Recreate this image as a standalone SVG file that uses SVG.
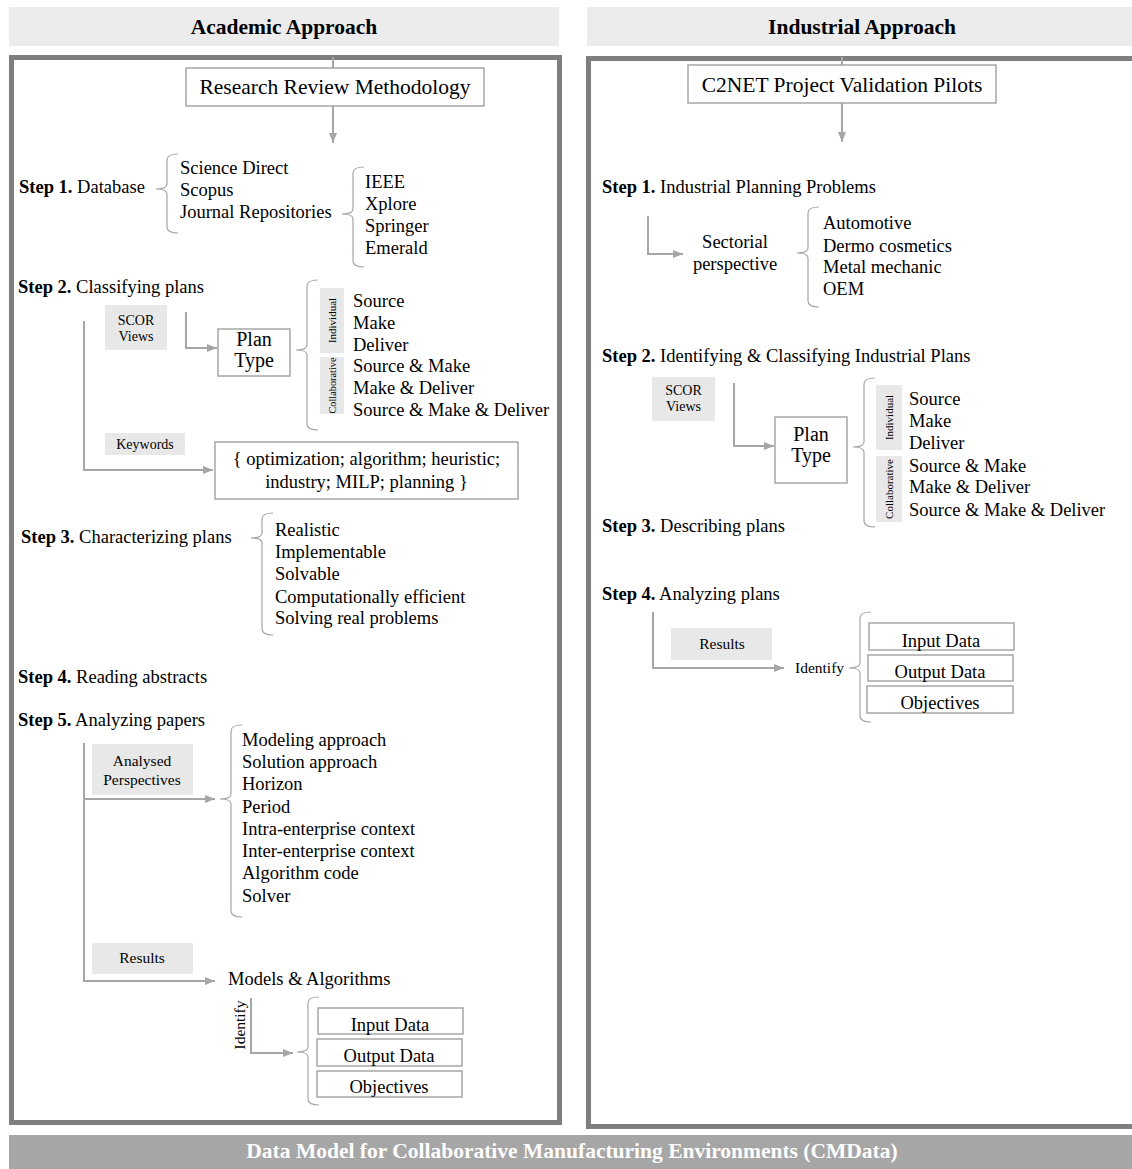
<svg xmlns="http://www.w3.org/2000/svg" width="1132" height="1169" viewBox="0 0 1132 1169">
<defs>
<marker id="arr" markerUnits="userSpaceOnUse" markerWidth="10" markerHeight="10" viewBox="0 0 10 10" refX="10" refY="5" orient="auto">
<path d="M0,1 L10,5 L0,9 z" fill="#a6a6a6"/>
</marker>
<style>
text{font-family:"Liberation Serif","Times New Roman",serif;font-size:18.5px;fill:#000}
.b{font-weight:bold}
.hd{font-size:21.5px;font-weight:bold}
.ft{font-size:21.5px;font-weight:bold;fill:#fff}
.m{text-anchor:middle}
.big{font-size:21.5px}
.pt{font-size:20px}
.sm{font-size:14px}
.md{font-size:15.5px}
.xs{font-size:11px}
.xs2{font-size:10.3px}
.hdr{fill:#ececec}
.frame{fill:none;stroke:#7f7f7f;stroke-width:5}
.box{fill:#fff;stroke:#a6a6a6;stroke-width:1.5}
.gbox{fill:#e8e8e8}
.conn{fill:none;stroke:#a6a6a6;stroke-width:2}
.brace{fill:none;stroke:#a6a6a6;stroke-width:1.2}
</style>
</defs>
<rect width="1132" height="1169" fill="#fff"/>

<!-- headers and frames -->
<g id="academic-header">
<rect class="hdr" x="9" y="7" width="550" height="39"/>
<text class="hd m" x="284" y="34">Academic Approach</text>
</g>
<g id="industrial-header">
<rect class="hdr" x="587" y="7" width="545" height="39"/>
<text class="hd m" x="862" y="34">Industrial Approach</text>
</g>
<g id="academic-frame"><rect class="frame" x="11.5" y="57.5" width="548" height="1065"/></g>
<g id="industrial-frame"><rect class="frame" x="588.5" y="58.5" width="548" height="1068"/></g>
<g id="cmdata-bar">
<rect x="9" y="1135" width="1123" height="34" fill="#a6a6a6"/>
<text class="ft m" x="572" y="1158">Data Model for Collaborative Manufacturing Environments (CMData)</text>
</g>

<!-- connectors -->
<g id="connectors">
<path class="conn" d="M333,57 V68"/>
<path class="conn" d="M333,106 V143" marker-end="url(#arr)"/>
<path class="conn" d="M186,312 V348 H217" marker-end="url(#arr)"/>
<path class="conn" d="M84,321 V470 H213" marker-end="url(#arr)"/>
<path class="conn" d="M84,743 V981 H215" marker-end="url(#arr)"/>
<path class="conn" d="M84,799 H215" marker-end="url(#arr)"/>
<path class="conn" d="M251,998 V1053 H293" marker-end="url(#arr)"/>
<path class="conn" d="M842,57 V65"/>
<path class="conn" d="M842,103 V142" marker-end="url(#arr)"/>
<path class="conn" d="M648,216 V254 H683" marker-end="url(#arr)"/>
<path class="conn" d="M734,383 V446 H774" marker-end="url(#arr)"/>
<path class="conn" d="M653,612 V668 H784" marker-end="url(#arr)"/>
<!-- braces -->
<path class="brace" d="M178,154 Q167,154 167,160 L167,184 Q167,189 156,189 Q167,189 167,194 L167,227 Q167,233 178,233"/>
<path class="brace" d="M364,167 Q353,167 353,173 L353,209 Q353,214 342,214 Q353,214 353,219 L353,261 Q353,267 364,267"/>
<path class="brace" d="M318,280 Q307,280 307,286 L307,345 Q307,350 296,350 Q307,350 307,355 L307,424 Q307,430 318,430"/>
<path class="brace" d="M273,513 Q262,513 262,519 L262,533 Q262,538 251,538 Q262,538 262,543 L262,629 Q262,635 273,635"/>
<path class="brace" d="M242,725 Q231,725 231,731 L231,794 Q231,799 220,799 Q231,799 231,804 L231,911 Q231,917 242,917"/>
<path class="brace" d="M319,997 Q308,997 308,1003 L308,1047 Q308,1052 297,1052 Q308,1052 308,1057 L308,1099 Q308,1105 319,1105"/>
<path class="brace" d="M819,207 Q808,207 808,213 L808,248 Q808,253 797,253 Q808,253 808,258 L808,301 Q808,307 819,307"/>
<path class="brace" d="M875,378 Q864,378 864,384 L864,442 Q864,447 853,447 Q864,447 864,452 L864,521 Q864,527 875,527"/>
<path class="brace" d="M871,612 Q860,612 860,618 L860,663 Q860,668 849,668 Q860,668 860,673 L860,716 Q860,722 871,722"/>
</g>

<!-- Academic approach nodes -->
<g id="rrm">
<rect class="box" x="186" y="68" width="298" height="38"/>
<text class="big m" x="335" y="94">Research Review Methodology</text>
</g>
<g id="a-step1">
<text x="19" y="193"><tspan class="b">Step 1.</tspan> Database</text>
</g>
<g id="a-databases">
<text x="180" y="174">Science Direct</text>
<text x="180" y="196">Scopus</text>
<text x="180" y="218">Journal Repositories</text>
</g>
<g id="a-repositories">
<text x="365" y="188">IEEE</text>
<text x="365" y="210">Xplore</text>
<text x="365" y="232">Springer</text>
<text x="365" y="254">Emerald</text>
</g>
<g id="a-step2">
<text x="18" y="293"><tspan class="b">Step 2.</tspan> Classifying plans</text>
</g>
<g id="a-scor">
<rect class="gbox" x="105" y="305" width="62" height="45"/>
<text class="sm m" x="136" y="325">SCOR</text>
<text class="sm m" x="136" y="341">Views</text>
</g>
<g id="a-plantype">
<rect class="box" x="218" y="329" width="72" height="47"/>
<text class="pt m" x="254" y="346">Plan</text>
<text class="pt m" x="254" y="367">Type</text>
</g>
<g id="a-individual">
<rect class="gbox" x="320" y="288" width="24" height="65"/>
<text class="xs m" transform="translate(336,320.5) rotate(-90)">Individual</text>
</g>
<g id="a-collaborative">
<rect class="gbox" x="320" y="357" width="24" height="57"/>
<text class="xs2 m" transform="translate(336,385.5) rotate(-90)">Collaborative</text>
</g>
<g id="a-plans">
<text x="353" y="307">Source</text>
<text x="353" y="329">Make</text>
<text x="353" y="351">Deliver</text>
<text x="353" y="372">Source &amp; Make</text>
<text x="353" y="394">Make &amp; Deliver</text>
<text x="353" y="416">Source &amp; Make &amp; Deliver</text>
</g>
<g id="a-keywords">
<rect class="gbox" x="105" y="433" width="80" height="22"/>
<text class="sm m" x="145" y="449">Keywords</text>
</g>
<g id="a-keywordlist">
<rect class="box" x="215" y="442" width="303" height="57"/>
<text class="m" x="366.5" y="465">{ optimization; algorithm; heuristic;</text>
<text class="m" x="366.5" y="488">industry; MILP; planning }</text>
</g>
<g id="a-step3">
<text x="21" y="543"><tspan class="b">Step 3.</tspan> Characterizing plans</text>
</g>
<g id="a-criteria">
<text x="275" y="536">Realistic</text>
<text x="275" y="558">Implementable</text>
<text x="275" y="580">Solvable</text>
<text x="275" y="603">Computationally efficient</text>
<text x="275" y="624">Solving real problems</text>
</g>
<g id="a-step4">
<text x="18" y="683"><tspan class="b">Step 4.</tspan> Reading abstracts</text>
</g>
<g id="a-step5">
<text x="18" y="726"><tspan class="b">Step 5.</tspan> Analyzing papers</text>
</g>
<g id="a-perspectives">
<rect class="gbox" x="92" y="744" width="101" height="51"/>
<text class="md m" x="142" y="766">Analysed</text>
<text class="md m" x="142" y="785">Perspectives</text>
</g>
<g id="a-perspective-list">
<text x="242" y="746">Modeling approach</text>
<text x="242" y="768">Solution approach</text>
<text x="242" y="790">Horizon</text>
<text x="242" y="813">Period</text>
<text x="242" y="835">Intra-enterprise context</text>
<text x="242" y="857">Inter-enterprise context</text>
<text x="242" y="879">Algorithm code</text>
<text x="242" y="902">Solver</text>
</g>
<g id="a-results">
<rect class="gbox" x="92" y="943" width="101" height="31"/>
<text class="md m" x="142" y="963">Results</text>
</g>
<g id="a-models">
<text x="228" y="985">Models &amp; Algorithms</text>
</g>
<g id="a-identify">
<text class="md m" transform="translate(245,1025) rotate(-90)">Identify</text>
</g>
<g id="a-input"><rect class="box" x="318" y="1008" width="145" height="26"/><text class="m" x="390" y="1031">Input Data</text></g>
<g id="a-output"><rect class="box" x="317" y="1039" width="145" height="27"/><text class="m" x="389" y="1062">Output Data</text></g>
<g id="a-objectives"><rect class="box" x="317" y="1071" width="145" height="26"/><text class="m" x="389" y="1093">Objectives</text></g>

<!-- Industrial approach nodes -->
<g id="c2net">
<rect class="box" x="688" y="65" width="308" height="38"/>
<text class="big m" x="842" y="92">C2NET Project Validation Pilots</text>
</g>
<g id="i-step1">
<text x="602" y="193"><tspan class="b">Step 1.</tspan> Industrial Planning Problems</text>
</g>
<g id="i-sectorial">
<text class="m" x="735" y="248">Sectorial</text>
<text class="m" x="735" y="270">perspective</text>
</g>
<g id="i-sectors">
<text x="823" y="229">Automotive</text>
<text x="823" y="252">Dermo cosmetics</text>
<text x="823" y="273">Metal mechanic</text>
<text x="823" y="295">OEM</text>
</g>
<g id="i-step2">
<text x="602" y="362"><tspan class="b">Step 2.</tspan> Identifying &amp; Classifying Industrial Plans</text>
</g>
<g id="i-scor">
<rect class="gbox" x="652" y="377" width="63" height="44"/>
<text class="sm m" x="683.5" y="395">SCOR</text>
<text class="sm m" x="683.5" y="411">Views</text>
</g>
<g id="i-plantype">
<rect class="box" x="775" y="417" width="72" height="66"/>
<text class="pt m" x="811" y="441">Plan</text>
<text class="pt m" x="811" y="462">Type</text>
</g>
<g id="i-individual">
<rect class="gbox" x="876" y="385" width="26" height="65"/>
<text class="xs m" transform="translate(893,417.5) rotate(-90)">Individual</text>
</g>
<g id="i-collaborative">
<rect class="gbox" x="876" y="456" width="26" height="66"/>
<text class="xs m" transform="translate(893,489) rotate(-90)">Collaborative</text>
</g>
<g id="i-plans">
<text x="909" y="405">Source</text>
<text x="909" y="427">Make</text>
<text x="909" y="449">Deliver</text>
<text x="909" y="472">Source &amp; Make</text>
<text x="909" y="493">Make &amp; Deliver</text>
<text x="909" y="516">Source &amp; Make &amp; Deliver</text>
</g>
<g id="i-step3">
<text x="602" y="532"><tspan class="b">Step 3.</tspan> Describing plans</text>
</g>
<g id="i-step4">
<text x="602" y="600"><tspan class="b">Step 4.</tspan> Analyzing plans</text>
</g>
<g id="i-results">
<rect class="gbox" x="671" y="628" width="101" height="32"/>
<text class="md m" x="722" y="649">Results</text>
</g>
<g id="i-identify">
<text class="md" x="795" y="673">Identify</text>
</g>
<g id="i-input"><rect class="box" x="869" y="623" width="145" height="27"/><text class="m" x="941" y="647">Input Data</text></g>
<g id="i-output"><rect class="box" x="868" y="655" width="145" height="26"/><text class="m" x="940" y="678">Output Data</text></g>
<g id="i-objectives"><rect class="box" x="867" y="686" width="146" height="27"/><text class="m" x="940" y="709">Objectives</text></g>
</svg>
